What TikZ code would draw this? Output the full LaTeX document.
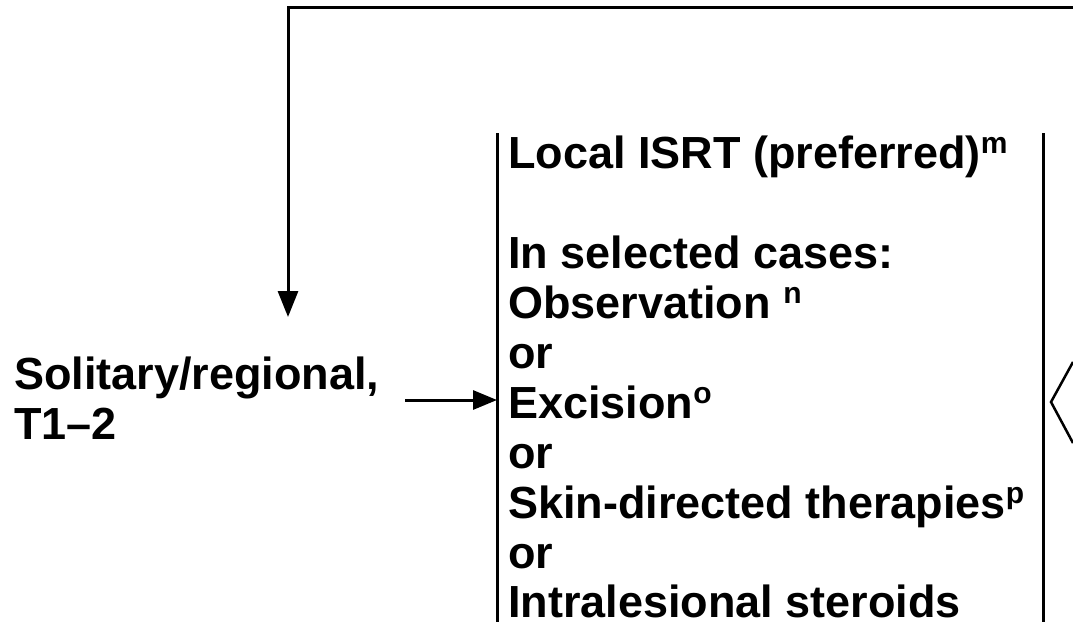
\documentclass[tikz,border=0pt]{standalone}
\usepackage{fontspec}
\setmainfont{Liberation Sans}
\usetikzlibrary{arrows.meta}
\newcommand\supx[1]{\raisebox{15pt}{\fontsize{30}{30}\selectfont #1}}
\tikzset{
  txt/.style={anchor=base west, inner sep=0pt, font=\fontsize{45}{50}\selectfont\bfseries},
  conn/.style={line width=3pt},
  arr/.style={conn, -{Triangle[length=26pt,width=20pt]}},
  harr/.style={line width=3pt, -{Triangle[length=24pt,width=19pt]}},
  bar/.style={line width=3pt},
  brk/.style={line width=2.5pt, line join=miter}
}
\begin{document}
\begin{tikzpicture}[x=1pt,y=1pt]
\useasboundingbox (0,0) rectangle (1073,-622);
% left condition
\node[txt] (s1) at (14,-389) {Solitary/regional,};
\node[txt] (s2) at (14,-439) {T1–2};
% treatment lines
\node[txt] (l1) at (508,-168) {Local ISRT (preferred)\supx{m}};
\node[txt] (l2) at (508,-268) {In selected cases:};
\node[txt] (l3) at (508,-318) {Observation \supx{n}};
\node[txt] (l4) at (508,-368) {or};
\node[txt] (l5) at (508,-418) {Excision\supx{o}};
\node[txt] (l6) at (508,-468) {or};
\node[txt] (l7) at (508,-518) {Skin-directed therapies\supx{p}};
\node[txt] (l8) at (508,-568) {or};
\node[txt] (l9) at (508,-617) {Intralesional steroids};
% bracket bars
\coordinate (bLt) at (497,-133);
\coordinate (bLb) at (497,-622);
\coordinate (bRt) at (1043,-133);
\coordinate (bRb) at (1043,-622);
\draw[bar] (bLt) -- (bLb);
\draw[bar] (bRt) -- (bRb);
% arrow into box
\coordinate (aS) at (405,-400);
\coordinate (aE) at (497,-400);
\draw[harr] (aS) -- (aE);
% feedback loop
\coordinate (fR) at (1073,-7);
\coordinate (fC) at (288,-7);
\coordinate (fE) at (288,-317);
\draw[arr] (fR) -- (fC) -- (fE);
% angle bracket at right edge
\coordinate (kT) at (1073,-362);
\coordinate (kM) at (1051,-402);
\coordinate (kB) at (1073,-443);
\draw[brk] (kT) -- (kM) -- (kB);
\end{tikzpicture}
\end{document}
